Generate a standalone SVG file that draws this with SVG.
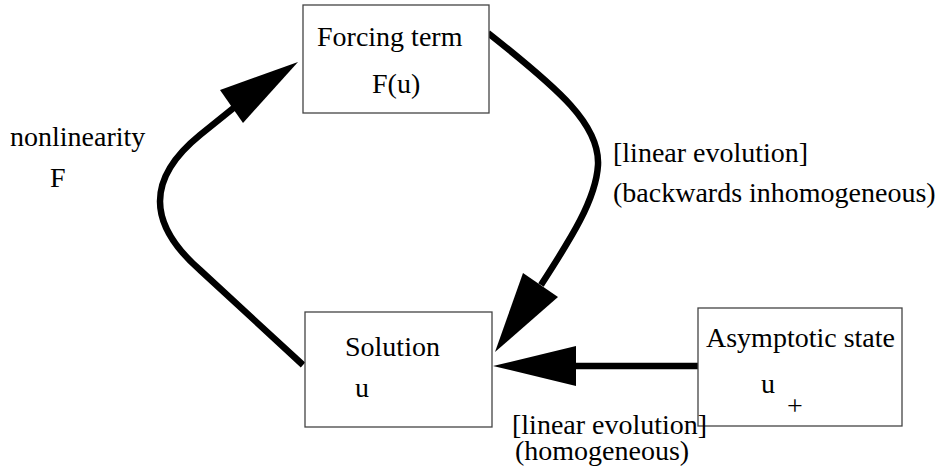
<svg xmlns="http://www.w3.org/2000/svg" width="948" height="470" viewBox="0 0 948 470">
  <style>
    text { font-family: "Liberation Serif", "Times New Roman", serif; font-size: 28px; fill: #000; }
    .box { fill: #fff; stroke: #444; stroke-width: 1.3; }
    .wire { fill: none; stroke: #000; stroke-width: 6.5; }
    .head { fill: #000; stroke: none; }
  </style>

  <!-- connectors -->
  <g id="connectors">
    <!-- nonlinearity: Solution -> Forcing term -->
    <path class="wire" d="M303,365 L200,270 Q120,200 200,135 L236,106"/>
    <polygon class="head" points="298,62 220,90 243,123"/>
    <!-- backwards inhomogeneous evolution: Forcing term -> Solution -->
    <path class="wire" d="M488,33 C560,90 600,125 598,165 C596,200 570,240 541,285"/>
    <polygon class="head" points="495,352 523,273 558,297"/>
    <!-- homogeneous evolution: Asymptotic state -> Solution -->
    <path class="wire" d="M576,366 L698,366"/>
    <polygon class="head" points="493,366 576,346 576,386"/>
  </g>

  <!-- nodes -->
  <g id="forcing">
    <rect class="box" x="303" y="5" width="186" height="108"/>
    <text x="317" y="46">Forcing term</text>
    <text x="372" y="93">F(u)</text>
  </g>

  <g id="solution">
    <rect class="box" x="305" y="312" width="187" height="115"/>
    <text x="345" y="356">Solution</text>
    <text x="355" y="397">u</text>
  </g>

  <g id="asymptotic">
    <rect class="box" x="698" y="308" width="204" height="118"/>
    <text x="706" y="347">Asymptotic state</text>
    <text x="761" y="393">u</text>
    <text x="787" y="415">+</text>
  </g>

  <!-- labels -->
  <g id="labels">
    <text x="10" y="146">nonlinearity</text>
    <text x="50" y="187">F</text>
    <text x="613" y="162">[linear evolution]</text>
    <text x="613" y="202">(backwards inhomogeneous)</text>
    <text x="512" y="434">[linear evolution]</text>
    <text x="515" y="460">(homogeneous)</text>
  </g>
</svg>
